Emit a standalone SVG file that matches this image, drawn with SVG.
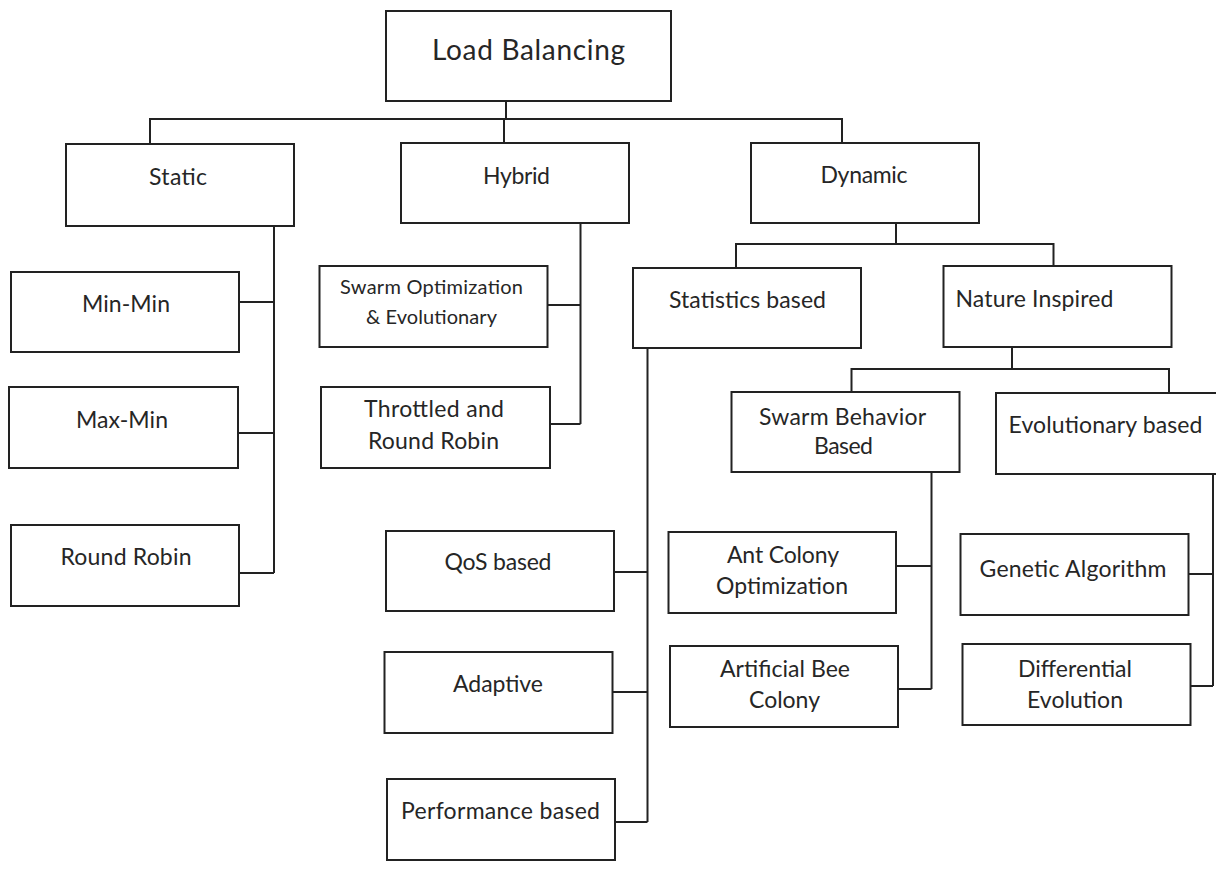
<svg xmlns="http://www.w3.org/2000/svg" width="1216" height="878" viewBox="0 0 1216 878">
<style>
.b{fill:#fff;stroke:#222;stroke-width:2}
.c{fill:none;stroke:#222;stroke-width:2}
text{font-family:Lato,"Open Sans",sans-serif;fill:#262626;font-size:23px}
.s{font-size:20px}
.t{font-size:28px}
</style>
<rect width="1216" height="878" fill="#fff"/>
<g id="connectors">
<path class="c" d="M506 101V119M150 144V119H842V143M504 119V143"/>
<path class="c" d="M274 226V573M239 302H274M238 433H274M239 573H274"/>
<path class="c" d="M580.5 223V424M548 305H580.5M550 424H580.5"/>
<path class="c" d="M896 223V244M736 268V244H1053.5V266"/>
<path class="c" d="M647.5 348V822M614 572H647.5M612 692H647.5M615 822H647.5"/>
<path class="c" d="M1012 347V369M851.5 392V369H1169V393"/>
<path class="c" d="M931.5 472V689M896 566H931.5M898 689H931.5"/>
<path class="c" d="M1213 474V686M1189 574H1213M1191 686H1213"/>
</g>
<g id="n-load"><rect class="b" x="386" y="11" width="285" height="90"/><text class="t" x="432" y="60" textLength="193">Load Balancing</text></g>
<g id="n-static"><rect class="b" x="66" y="144" width="228" height="82"/><text x="149" y="185" textLength="58">Static</text></g>
<g id="n-hybrid"><rect class="b" x="401" y="143" width="228" height="80"/><text x="483" y="184" textLength="67">Hybrid</text></g>
<g id="n-dynamic"><rect class="b" x="751" y="143" width="228" height="80"/><text x="820.5" y="183" textLength="87">Dynamic</text></g>
<g id="n-minmin"><rect class="b" x="11" y="272" width="228" height="80"/><text x="82" y="312" textLength="88">Min-Min</text></g>
<g id="n-maxmin"><rect class="b" x="9" y="387" width="229" height="81"/><text x="76" y="428" textLength="92">Max-Min</text></g>
<g id="n-roundrobin"><rect class="b" x="11" y="525" width="228" height="81"/><text x="60.5" y="565" textLength="131">Round Robin</text></g>
<g id="n-swarmopt"><rect class="b" x="319.5" y="266" width="228" height="81"/><text class="s" x="340" y="294" textLength="183">Swarm Optimization</text><text class="s" x="366" y="324" textLength="131">&amp; Evolutionary</text></g>
<g id="n-throttled"><rect class="b" x="321" y="387" width="229" height="81"/><text x="364" y="417" textLength="140">Throttled and</text><text x="368" y="449" textLength="131">Round Robin</text></g>
<g id="n-stats"><rect class="b" x="633" y="268" width="228" height="80"/><text x="669" y="308" textLength="157">Statistics based</text></g>
<g id="n-nature"><rect class="b" x="943.5" y="266" width="228" height="81"/><text x="955.5" y="306.5" textLength="158">Nature Inspired</text></g>
<g id="n-swarmbeh"><rect class="b" x="731.5" y="392" width="228" height="80"/><text x="759" y="425" textLength="167">Swarm Behavior</text><text x="814" y="454" textLength="59">Based</text></g>
<g id="n-evobased"><rect class="b" x="996" y="393" width="240" height="81"/><text x="1008.5" y="433" textLength="194">Evolutionary based</text></g>
<g id="n-qos"><rect class="b" x="386" y="531" width="228" height="80"/><text x="444.5" y="570" textLength="107">QoS based</text></g>
<g id="n-adaptive"><rect class="b" x="384.5" y="652" width="228" height="81"/><text x="453" y="692" textLength="90">Adaptive</text></g>
<g id="n-perf"><rect class="b" x="387" y="779" width="228" height="81"/><text x="401" y="819" textLength="199">Performance based</text></g>
<g id="n-ant"><rect class="b" x="668.5" y="532" width="227.5" height="81"/><text x="727" y="563" textLength="112">Ant Colony</text><text x="716" y="594" textLength="132">Optimization</text></g>
<g id="n-bee"><rect class="b" x="670" y="646" width="228" height="81"/><text x="720" y="677" textLength="130">Artificial Bee</text><text x="749" y="708" textLength="71">Colony</text></g>
<g id="n-genetic"><rect class="b" x="960.5" y="534" width="228" height="81"/><text x="979.5" y="577" textLength="187">Genetic Algorithm</text></g>
<g id="n-diff"><rect class="b" x="962.5" y="644" width="228" height="81"/><text x="1018" y="677" textLength="114">Differential</text><text x="1027" y="708" textLength="96">Evolution</text></g>
</svg>
